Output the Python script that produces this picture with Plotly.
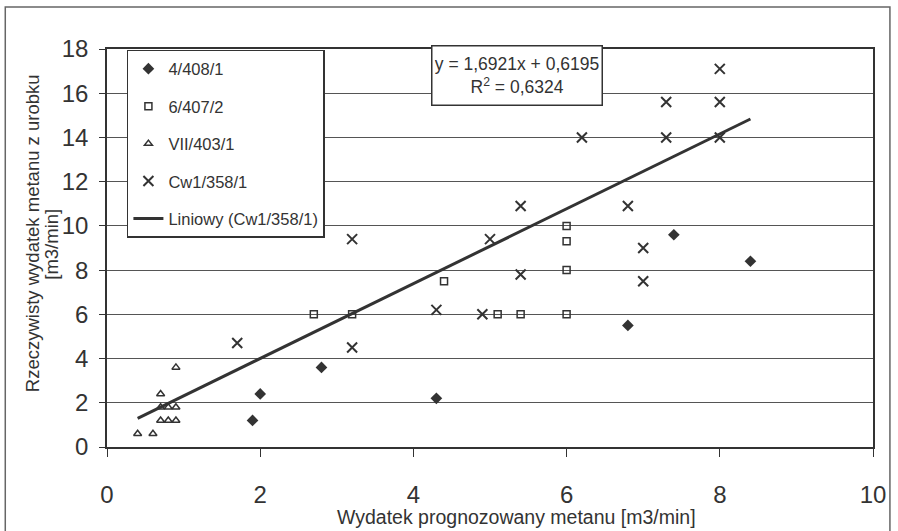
import plotly.graph_objects as go

# ---- data ----
s1_name = "4/408/1"
s1_x = [1.9, 2.0, 2.8, 4.3, 6.8, 7.4, 8.4]
s1_y = [1.2, 2.4, 3.6, 2.2, 5.5, 9.6, 8.4]

s2_name = "6/407/2"
s2_x = [2.7, 3.2, 4.4, 5.1, 5.4, 6.0, 6.0, 6.0, 6.0]
s2_y = [6.0, 6.0, 7.5, 6.0, 6.0, 6.0, 8.0, 9.3, 10.0]

s3_name = "VII/403/1"
s3_x = [0.4, 0.6, 0.7, 0.8, 0.9, 0.7, 0.8, 0.9, 0.7, 0.9]
s3_y = [0.6, 0.6, 1.2, 1.2, 1.2, 1.8, 1.8, 1.8, 2.4, 3.6]

s4_name = "Cw1/358/1"
s4_x = [1.7, 3.2, 3.2, 4.3, 4.9, 5.0, 5.4, 5.4, 6.2, 6.8, 7.0, 7.0, 7.3, 7.3, 8.0, 8.0, 8.0]
s4_y = [4.7, 9.4, 4.5, 6.2, 6.0, 9.4, 10.9, 7.8, 14.0, 10.9, 9.0, 7.5, 15.6, 14.0, 17.1, 15.6, 14.0]

trend_name = "Liniowy (Cw1/358/1)"
slope = 1.6921
intercept = 0.6195
eq_text = "y = 1,6921x + 0,6195"
r2_text = "0,6324"

x_ticks = [0, 2, 4, 6, 8, 10]
y_ticks = [0, 2, 4, 6, 8, 10, 12, 14, 16, 18]

x_title = "Wydatek prognozowany metanu [m3/min]"
y_title_1 = "Rzeczywisty wydatek metanu z urobku"
y_title_2 = "[m3/min]"

# ---- figure ----
INK = "#333333"
ARIAL = "Liberation Sans, Arial, sans-serif"

all_x = s1_x + s2_x + s3_x + s4_x
tx = [min(all_x), max(all_x)]
ty = [slope * v + intercept for v in tx]

fig = go.Figure()
fig.add_trace(go.Scatter(x=s1_x, y=s1_y, mode="markers", name=s1_name, legendgroup="a",
                         marker=dict(symbol="diamond", size=9, color=INK)))
fig.add_trace(go.Scatter(x=s2_x, y=s2_y, mode="markers", name=s2_name, legendgroup="b",
                         marker=dict(symbol="square-open", size=7, color=INK, line=dict(width=1.5))))
fig.add_trace(go.Scatter(x=s3_x, y=s3_y, mode="markers", name=s3_name, legendgroup="c",
                         marker=dict(symbol="triangle-up-open", size=7, color=INK, line=dict(width=1.5))))
fig.add_trace(go.Scatter(x=s4_x, y=s4_y, mode="markers", name=s4_name, legendgroup="d",
                         marker=dict(symbol="x-thin-open", size=10, color=INK, line=dict(width=2, color=INK))))
fig.add_trace(go.Scatter(x=tx, y=ty, mode="lines", name=trend_name, legendgroup="e",
                         line=dict(color=INK, width=3)))

fig.update_layout(
    width=898, height=531,
    margin=dict(l=107, r=23, t=49, b=84),
    paper_bgcolor="white", plot_bgcolor="white",
    font=dict(family=ARIAL, color=INK),
    showlegend=True,
    legend=dict(x=0.026, y=0.9975, xanchor="left", yanchor="top",
                bgcolor="white", bordercolor=INK, borderwidth=1.5,
                font=dict(family=ARIAL, size=16.5, color=INK),
                tracegroupgap=13, itemwidth=30),
    xaxis=dict(range=[0, 10], tickvals=x_ticks, showgrid=False, zeroline=False,
               showline=True, linecolor=INK, linewidth=1.5, mirror=True,
               ticks="outside", ticklen=8, tickcolor=INK,
               tickfont=dict(size=24, color=INK), ticklabelstandoff=17),
    yaxis=dict(range=[0, 18], tickvals=y_ticks, showgrid=True, gridcolor="#555555", gridwidth=1,
               zeroline=False, showline=True, linecolor=INK, linewidth=1.5, mirror=True,
               ticks="outside", ticklen=6, tickcolor=INK,
               tickfont=dict(size=24, color=INK), ticklabelstandoff=6),
    annotations=[
        dict(x=0.534, y=-0.176, xref="paper", yref="paper", xanchor="center", yanchor="middle",
             text=x_title, showarrow=False,
             font=dict(family=ARIAL, size=19.5, color=INK)),
        dict(x=-0.0964, y=0.5377, xref="paper", yref="paper", xanchor="center", yanchor="middle",
             text=y_title_1, showarrow=False, textangle=-90,
             font=dict(family=ARIAL, size=18.5, color=INK)),
        dict(x=-0.0735, y=0.51, xref="paper", yref="paper", xanchor="center", yanchor="middle",
             text=y_title_2, showarrow=False, textangle=-90,
             font=dict(family=ARIAL, size=18.5, color=INK)),
        dict(x=5.358, y=16.82, xref="x", yref="y", xanchor="center", yanchor="middle",
             text=eq_text + "<br>R<sup>2</sup> = " + r2_text,
             showarrow=False, bgcolor="white", bordercolor=INK, borderwidth=1.5,
             borderpad=2, width=165, height=54,
             font=dict(family=ARIAL, size=17.5, color=INK)),
    ],
    shapes=[
        dict(type="rect", xref="paper", yref="paper", x0=-0.1328, x1=1.0221, y0=-0.3, y1=1.1055,
             line=dict(color="#666666", width=1.5), fillcolor="rgba(0,0,0,0)", layer="below"),
    ],
)

fig.write_html("out.html", config={"displayModeBar": False},
               post_script="document.body.style.margin='0px';")
